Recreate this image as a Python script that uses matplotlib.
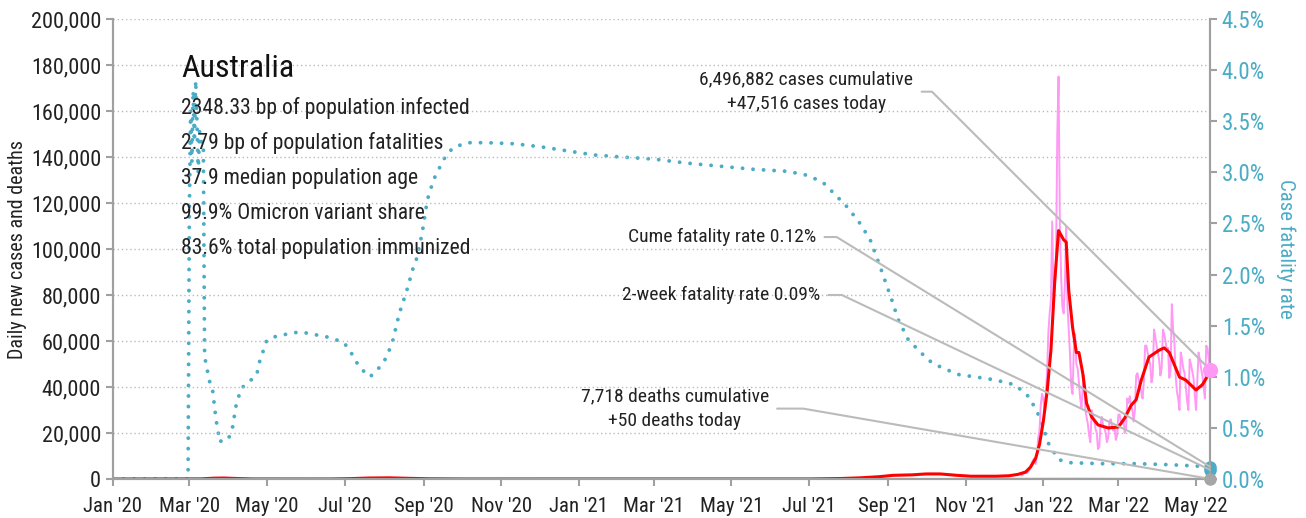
import matplotlib.pyplot as plt
import matplotlib.dates as mdates
import matplotlib.font_manager as fm
import pandas as pd
from matplotlib.ticker import FuncFormatter, MultipleLocator

# pick a narrow face if one is installed
installed = {f.name for f in fm.fontManager.ttflist}
for name in ['Roboto Condensed', 'Liberation Sans Narrow', 'Open Sans Condensed',
             'Noto Sans Condensed', 'Roboto', 'Liberation Sans']:
    if name in installed:
        plt.rcParams['font.family'] = [name, 'DejaVu Sans']
        break

# Daily new cases (raw), thousands, Dec 15 2021 .. May 12 2022
raw_start = '2021-12-15'
raw_cases_k = [
    1.6, 1.9, 2.4, 2.7, 2.6, 3.0, 3.8, 5.4, 7.0, 8.3, 9.0, 6.5, 11.0, 18.0, 21.0, 32.0, 37.0,
    35, 30, 37, 47, 64, 72, 78, 112, 80, 83, 95, 150, 175, 112, 88, 75, 72, 85, 110, 75, 65,
    54, 40, 37, 57, 63, 50, 48, 42, 35, 31,
    40, 45, 30, 27, 24, 19, 16, 30, 28, 25, 22, 20, 13, 14, 24, 27, 23, 22, 20, 16, 18, 25,
    26, 23, 21, 22, 17, 19,
    28, 28, 25, 24, 26, 20, 22, 35, 33, 36, 32, 30, 25, 30, 45, 46, 43, 40, 38, 35, 42, 58,
    58, 55, 52, 50, 42, 45, 65, 62, 58,
    55, 52, 45, 48, 65, 63, 60, 56, 57, 44, 47, 76, 65, 60, 45, 38, 35, 30, 55, 52, 48, 46,
    40, 34, 30, 52, 50, 47, 44, 37,
    30, 42, 55, 52, 48, 45, 40, 35, 58, 57, 52, 47.516,
]

# Smoothed daily new cases
smooth_dates = [
    '2020-01-01', '2020-03-10', '2020-03-20', '2020-03-28', '2020-04-08', '2020-04-20',
    '2020-06-20', '2020-07-05', '2020-07-20', '2020-08-05', '2020-08-20', '2020-09-05',
    '2020-10-01', '2021-01-01', '2021-07-01', '2021-07-25', '2021-08-10', '2021-08-25',
    '2021-09-05', '2021-09-20', '2021-10-01', '2021-10-12', '2021-10-25', '2021-11-05',
    '2021-11-25', '2021-12-05', '2021-12-12', '2021-12-18', '2021-12-22', '2021-12-26',
    '2021-12-29', '2022-01-01', '2022-01-04', '2022-01-07', '2022-01-09', '2022-01-10',
    '2022-01-13', '2022-01-17', '2022-01-19', '2022-01-21', '2022-01-24', '2022-01-27',
    '2022-01-29', '2022-02-01', '2022-02-04', '2022-02-08', '2022-02-13', '2022-02-21',
    '2022-03-01', '2022-03-06', '2022-03-11', '2022-03-15', '2022-03-19', '2022-03-25',
    '2022-04-02', '2022-04-06', '2022-04-10', '2022-04-18', '2022-04-23', '2022-05-01',
    '2022-05-06', '2022-05-12',
]
smooth_cases = [
    0, 50, 350, 420, 200, 20,
    15, 150, 420, 500, 300, 100,
    15, 20, 20, 200, 500, 1000,
    1600, 1800, 2200, 2200, 1600, 1200,
    1200, 1400, 2000, 3000, 5200, 9000,
    15000, 25000, 38000, 56000, 76000, 86000,
    108000, 104000, 103000, 82000, 66000, 55000,
    55000, 46000, 33000, 27000, 23500, 22200,
    22600, 26500, 32000, 34500, 43000, 53000,
    56000, 57000, 55000, 44300, 43000, 38700,
    41000, 46500,
]

# Smoothed daily deaths
death_dates = ['2020-01-01', '2020-04-05', '2020-05-15', '2020-08-10', '2020-09-20',
               '2020-10-15', '2021-08-01', '2021-10-01', '2021-11-10', '2022-01-25',
               '2022-03-01', '2022-04-15', '2022-05-12']
deaths = [0, 4, 0.5, 18, 3, 0.3, 0.5, 12, 6, 80, 35, 30, 50]

# Cumulative case fatality rate, %
cfr_dates = [
    '2020-01-01', '2020-02-29', '2020-03-01', '2020-03-02', '2020-03-03', '2020-03-04',
    '2020-03-05', '2020-03-06', '2020-03-07', '2020-03-08', '2020-03-09', '2020-03-10',
    '2020-03-12', '2020-03-13', '2020-03-15', '2020-03-17', '2020-03-19', '2020-03-22',
    '2020-03-25', '2020-03-28', '2020-04-01', '2020-04-04', '2020-04-07', '2020-04-11',
    '2020-04-16', '2020-04-23', '2020-04-25', '2020-05-01', '2020-05-09', '2020-05-27',
    '2020-06-17', '2020-06-30', '2020-07-05', '2020-07-11', '2020-07-17', '2020-07-21',
    '2020-07-27', '2020-08-03', '2020-08-08', '2020-08-13', '2020-08-19', '2020-08-24',
    '2020-08-27', '2020-08-31', '2020-09-04', '2020-09-09', '2020-09-17', '2020-09-24',
    '2020-10-05', '2020-10-21', '2020-11-11', '2020-12-02', '2020-12-23', '2021-01-13',
    '2021-02-03', '2021-03-01', '2021-03-27', '2021-04-22', '2021-05-18', '2021-06-14',
    '2021-06-30', '2021-07-12', '2021-07-20', '2021-07-31', '2021-08-10', '2021-08-18',
    '2021-08-26', '2021-09-04', '2021-09-09', '2021-09-17', '2021-09-25', '2021-10-03',
    '2021-10-13', '2021-10-27', '2021-11-08', '2021-11-24', '2021-12-10', '2021-12-21',
    '2021-12-29', '2022-01-05', '2022-01-13', '2022-01-21', '2022-02-15', '2022-03-15',
    '2022-04-10', '2022-05-12',
]
cfr = [
    0, 0, 2.6, 3.6, 3.1, 3.8,
    3.3, 3.9, 3.5, 3.0, 3.4, 3.3,
    3.3, 1.2, 1.07, 0.95, 0.9, 0.58,
    0.36, 0.40, 0.40, 0.51, 0.74, 0.89,
    0.94, 1.02, 1.14, 1.36, 1.40, 1.44,
    1.39, 1.34, 1.26, 1.13, 1.04, 1.00,
    1.07, 1.19, 1.36, 1.62, 1.85, 2.07,
    2.17, 2.41, 2.73, 2.93, 3.13, 3.24,
    3.29, 3.29, 3.28, 3.25, 3.21, 3.17,
    3.15, 3.13, 3.09, 3.06, 3.03, 3.01,
    2.97, 2.90, 2.80, 2.66, 2.50, 2.34,
    2.07, 1.75, 1.56, 1.36, 1.26, 1.16,
    1.09, 1.02, 1.00, 0.97, 0.92, 0.80,
    0.61, 0.35, 0.19, 0.16, 0.15, 0.15,
    0.14, 0.12,
]

last_date = '2022-05-12'
cases_today = 47516
deaths_today = 50
cume_cfr = 0.12
two_week_cfr = 0.09

info_lines = [
    '2348.33 bp of population infected',
    '2.79 bp of population fatalities',
    '37.9 median population age',
    '99.9% Omicron variant share',
    '83.6% total population immunized',
]

teal = '#4BACC6'
pink = '#FF99F5'
grey = '#A6A6A6'

raw_dates = pd.date_range(raw_start, periods=len(raw_cases_k), freq='D')
raw_cases = [v * 1000 for v in raw_cases_k]
end = pd.Timestamp(last_date)
end_num = mdates.date2num(end)

fig = plt.figure(figsize=(13.06, 5.18), dpi=100)
ax = fig.add_axes([0.0865, 0.0753, 0.84, 0.888])
ax2 = ax.twinx()
ax.set_zorder(ax2.get_zorder() + 1)
ax.patch.set_visible(False)

# case fatality rate (right axis)
ax2.plot(pd.to_datetime(cfr_dates), cfr, color=teal, lw=2.8,
         linestyle=(0, (0.01, 2.7)), dash_capstyle='round')
ax2.plot([end], [cume_cfr], 'o', color=teal, ms=8, clip_on=False, zorder=5)
ax2.plot([end], [two_week_cfr], 'o', color=teal, ms=8, clip_on=False, zorder=5)

# cases and deaths (left axis)
ax.plot(pd.to_datetime(death_dates), deaths, color=grey, lw=1.5)
ax.plot(raw_dates, raw_cases, color=pink, lw=1.4)
ax.plot(pd.to_datetime(smooth_dates), smooth_cases, color='red', lw=2.2)
ax.plot([end], [cases_today], 'o', color=pink, ms=10, clip_on=False, zorder=6)
ax.plot([end], [deaths_today], 'o', color=grey, ms=8, clip_on=False, zorder=6)

ax.set_xlim(pd.Timestamp('2020-01-01'), end)
ax.set_ylim(0, 200000)
ax2.set_ylim(0, 4.5)

ax.xaxis.set_major_locator(mdates.MonthLocator(bymonth=[1, 3, 5, 7, 9, 11]))
ax.xaxis.set_major_formatter(mdates.DateFormatter("%b '%y"))
ax.yaxis.set_major_locator(MultipleLocator(20000))
ax.yaxis.set_major_formatter(FuncFormatter(lambda v, p: f'{v:,.0f}'))
ax2.yaxis.set_major_locator(MultipleLocator(0.5))
ax2.yaxis.set_major_formatter(FuncFormatter(lambda v, p: f'{v:.1f}%'))

ax.grid(axis='y', color='#BBBBBB', linestyle=(0, (1, 2)), lw=1)
for a in (ax, ax2):
    a.spines['top'].set_visible(False)
    for s in ('left', 'right', 'bottom'):
        a.spines[s].set_color('#A0A0A0')
        a.spines[s].set_linewidth(1.5)
ax.tick_params(axis='y', colors='#A0A0A0', labelcolor='#222222', labelsize=16,
               length=5, width=1.5)
ax.tick_params(axis='x', colors='#A0A0A0', labelcolor='#222222', labelsize=15,
               length=5, width=1.5, pad=8)
ax2.tick_params(axis='y', colors='#A0A0A0', labelcolor=teal, labelsize=16.5,
                length=5, width=1.5)

ax.set_ylabel('Daily new cases and deaths', fontsize=14.5, color='#222222', labelpad=3)
ax2.set_ylabel('Case fatality rate', fontsize=15, color=teal, rotation=-90, labelpad=22)

# info block
ax.text(0.062, 0.893, 'Australia', transform=ax.transAxes, fontsize=23,
        va='center', ha='left', color='#111111')
for i, line in enumerate(info_lines):
    ax.text(0.062, 0.807 - i * 0.0765, line, transform=ax.transAxes, fontsize=15.6,
            va='center', ha='left', color='#222222')

# callouts
line_kw = dict(arrowstyle='-', color='#BBBBBB', lw=1.5, shrinkA=4, shrinkB=0)
callouts = [
    (f'{6496882:,} cases cumulative\n+{cases_today:,} cases today',
     (end_num, cases_today), ax, (0.632, 0.842), 'center', -45),
    (f'Cume fatality rate {cume_cfr:.2f}%',
     (end_num, cume_cfr), ax2, (0.641, 0.526), 'right', -31.6),
    (f'2-week fatality rate {two_week_cfr:.2f}%',
     (end_num, two_week_cfr), ax2, (0.6445, 0.40), 'right', -25.4),
    (f'{7718:,} deaths cumulative\n+{deaths_today} deaths today',
     (end_num, deaths_today), ax, (0.512, 0.153), 'center', -9.8),
]
for text, xy, xyax, xytext, ha, ang in callouts:
    ax.annotate(text, xy=xy, xycoords=xyax.transData, xytext=xytext,
                textcoords=ax.transAxes, ha=ha, va='center', fontsize=14,
                color='#222222', linespacing=1.45, annotation_clip=False,
                arrowprops=dict(connectionstyle=f'angle,angleA=0,angleB={ang},rad=0',
                                relpos=(1, 0.5), **line_kw))

fig.savefig('out.png', dpi=100)
